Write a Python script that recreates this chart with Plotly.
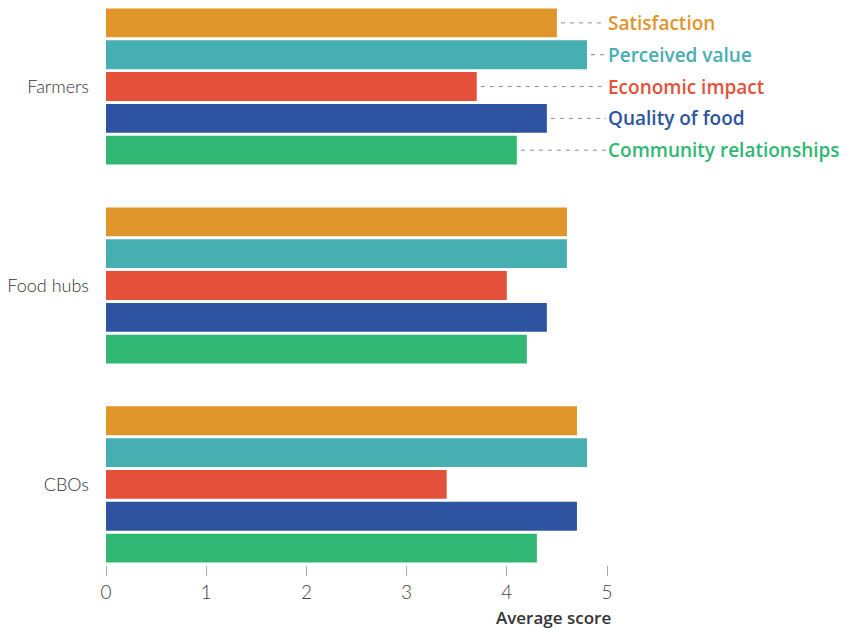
import plotly.graph_objects as go

groups = ["Farmers", "Food hubs", "CBOs"]
metrics = ["Satisfaction", "Perceived value", "Economic impact", "Quality of food", "Community relationships"]
satisfaction = [4.5, 4.6, 4.7]
perceived_value = [4.8, 4.6, 4.8]
economic_impact = [3.7, 4.0, 3.4]
quality_of_food = [4.4, 4.4, 4.7]
community_relationships = [4.1, 4.2, 4.3]
series = [satisfaction, perceived_value, economic_impact, quality_of_food, community_relationships]
colors = ["#E0952A", "#47AEB1", "#E4503A", "#2D53A1", "#31B774"]
tick_vals = [0, 1, 2, 3, 4, 5]

fig = go.Figure()
for name, vals, col in zip(metrics, series, colors):
    fig.add_trace(go.Bar(
        y=groups, x=vals, name=name, orientation="h",
        marker=dict(color=col, line=dict(width=0)),
        showlegend=False,
    ))

bargap = 0.2
slot = (1 - bargap) / len(metrics)
n = len(metrics)
for i, (name, col) in enumerate(zip(metrics, colors)):
    yv = (i - (n - 1) / 2) * slot
    v = series[i][0]
    fig.add_shape(type="line", xref="x", yref="y", x0=v + 0.04, x1=4.99, y0=yv, y1=yv,
                  line=dict(color="#8a8a8a", width=1, dash="4px,5px"))
    fig.add_annotation(xref="paper", yref="y", x=1.0, y=yv, xanchor="left", yanchor="middle",
                       xshift=-1, text=name, showarrow=False,
                       font=dict(family="Open Sans", size=19, color=col, weight=600))

fig.add_annotation(xref="paper", yref="paper", x=1.0, y=0, xshift=6, yshift=-52,
                   xanchor="right", yanchor="middle",
                   text="Average score", showarrow=False,
                   font=dict(family="Open Sans", size=17, color="#333333", weight=600))

fig.update_layout(
    width=854, height=629,
    margin=dict(l=106, r=247, t=0, b=64),
    plot_bgcolor="white", paper_bgcolor="white",
    barmode="group", bargap=bargap, bargroupgap=0.094,
    font=dict(family="Open Sans"),
)
fig.update_xaxes(range=[0, 5], tickvals=tick_vals, showgrid=False, zeroline=False, showline=False,
                 ticks="outside", ticklen=10, tickcolor="#aaaaaa", tickwidth=1,
                 tickfont=dict(family="Lato", size=19, color="#444444", weight=300), ticklabelstandoff=0)
fig.update_yaxes(range=[2.405, -0.435], showgrid=False, zeroline=False, showline=False,
                 ticks="", tickfont=dict(family="Lato", size=18, color="#333333", weight=300),
                 ticklabelstandoff=16)

fig.write_html("out.html")
